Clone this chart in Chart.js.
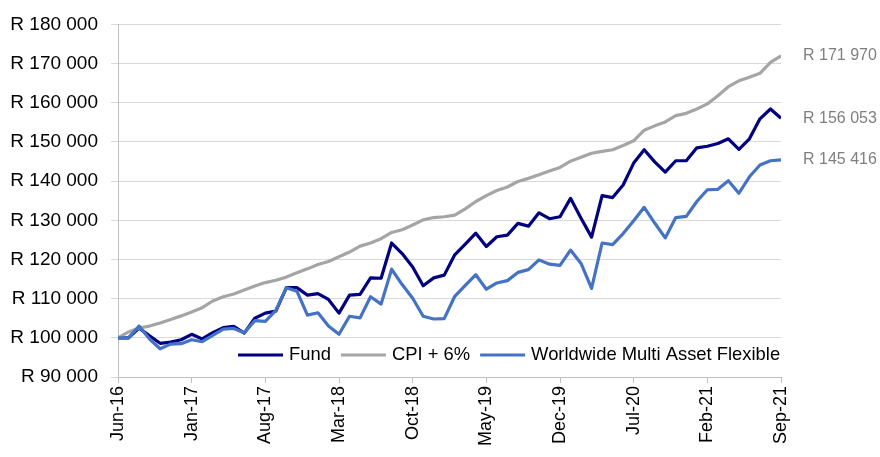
<!DOCTYPE html>
<html>
<head>
<meta charset="utf-8">
<script src="https://cdn.jsdelivr.net/npm/chart.js@4.4.1/dist/chart.umd.min.js"></script>
<style>
  html, body { margin: 0; padding: 0; background: #fff; }
  #wrap { width: 880px; height: 457px; position: relative; }
</style>
</head>
<body>
<div id="wrap"><canvas id="growthChart"></canvas></div>
<script>
// Growth of R100 000, monthly, Jun-16 to Sep-21 (64 month ends)
const tickLabels = ['Jun-16', 'Jan-17', 'Aug-17', 'Mar-18', 'Oct-18', 'May-19', 'Dec-19', 'Jul-20', 'Feb-21', 'Sep-21'];
const seriesNames = ['Fund', 'CPI + 6%', 'Worldwide Multi Asset Flexible'];

const fundValues = [
    100000, 100000, 102500, 100500, 98600, 98900, 99500, 100900, 99700, 101300,
    102600, 102900, 101200, 105000, 106300, 106800, 112800, 112800, 110900, 111300,
    109800, 106300, 110900, 111100, 115300, 115200, 124200, 121500, 118100, 113300,
    115300, 116000, 121200, 123900, 126700, 123300, 125800, 126200, 129200, 128500,
    131900, 130400, 130900, 135600, 130500, 125700, 136300, 135800, 139000, 144600,
    148000, 144900, 142300, 145200, 145200, 148500, 148900, 149600, 150800, 148100,
    150800, 155900, 158400, 156053
];

const cpiValues = [
    100000, 101500, 102500, 103000, 103800, 104700, 105600, 106600, 107700, 109400,
    110500, 111200, 112200, 113200, 114100, 114700, 115500, 116600, 117600, 118700,
    119500, 120700, 121900, 123400, 124200, 125300, 126900, 127600, 128800, 130100,
    130700, 130900, 131300, 132900, 134800, 136300, 137600, 138500, 139900, 140700,
    141600, 142600, 143500, 145100, 146100, 147100, 147600, 148000, 149100, 150300,
    153000, 154100, 155100, 156700, 157300, 158400, 159700, 161800, 164100, 165600,
    166500, 167500, 170300, 171970
];

const wmaValues = [
    100000, 100000, 103000, 99700, 97200, 98400, 98500, 99500, 99000, 100600,
    102200, 102400, 101300, 104400, 104200, 107000, 112800, 111900, 105800, 106400,
    103000, 100900, 105500, 105100, 110500, 108600, 117500, 113600, 110100, 105500,
    104800, 104900, 110600, 113400, 116100, 112400, 114000, 114600, 116700, 117400,
    119900, 118800, 118500, 122400, 119000, 112600, 124200, 123800, 126600, 129900,
    133300, 129300, 125500, 130700, 131000, 134800, 137800, 137900, 140100, 136900,
    141100, 144100, 145200, 145416
];

const colors = ['#000080', '#A5A5A5', '#4472C4'];
const FONT = '"Liberation Sans", Arial, sans-serif';

function randFormat(v) {
    return 'R ' + Math.round(v).toString().replace(/\B(?=(\d{3})+(?!\d))/g, ' ');
}

function toPoints(values) {
    return values.map((v, i) => ({ x: i, y: v }));
}

// Closing values printed to the right of the plot
const endLabels = {
    id: 'endLabels',
    afterDatasetsDraw(chart) {
        const ctx = chart.ctx;
        ctx.save();
        ctx.font = '16px ' + FONT;
        ctx.fillStyle = '#7F7F7F';
        ctx.textAlign = 'left';
        ctx.textBaseline = 'middle';
        chart.data.datasets.forEach((ds, i) => {
            const meta = chart.getDatasetMeta(i);
            const last = meta.data[meta.data.length - 1];
            const value = ds.data[ds.data.length - 1].y;
            ctx.fillText(randFormat(value), chart.chartArea.right + 22, last.y);
        });
        ctx.restore();
    }
};

// Legend sits inside the plot, near the bottom
const insideLegend = {
    id: 'insideLegend',
    afterDraw(chart) {
        const ctx = chart.ctx;
        const area = chart.chartArea;
        ctx.save();
        ctx.font = '18.4px ' + FONT;
        ctx.textBaseline = 'middle';
        ctx.textAlign = 'left';
        let x = area.left + 120;
        const y = area.bottom - 22;
        chart.data.datasets.forEach(ds => {
            ctx.strokeStyle = ds.borderColor;
            ctx.lineWidth = 3;
            ctx.beginPath();
            ctx.moveTo(x, y);
            ctx.lineTo(x + 45, y);
            ctx.stroke();
            x += 51;
            ctx.fillStyle = '#000';
            ctx.fillText(ds.label, x, y);
            x += ctx.measureText(ds.label).width + 10;
        });
        ctx.restore();
    }
};

const ctx = document.getElementById('growthChart');
new Chart(ctx.getContext('2d'), {
    type: 'line',
    data: {
        datasets: [{
            label: seriesNames[0],
            data: toPoints(fundValues),
            borderColor: colors[0],
            order: 2
        }, {
            label: seriesNames[1],
            data: toPoints(cpiValues),
            borderColor: colors[1],
            order: 1
        }, {
            label: seriesNames[2],
            data: toPoints(wmaValues),
            borderColor: colors[2],
            order: 0
        }]
    },
    options: {
        responsive: true,
        maintainAspectRatio: false,
        animation: false,
        elements: {
            point: { radius: 0 },
            line: { borderWidth: 3.2, tension: 0, borderJoinStyle: 'round' }
        },
        layout: {
            padding: { left: 0, right: 99, top: 20, bottom: 0 }
        },
        plugins: {
            legend: { display: false },
            tooltip: { enabled: false }
        },
        scales: {
            x: {
                type: 'linear',
                min: 0,
                max: fundValues.length - 1,
                afterFit: scale => { scale.height = 80; },
                afterBuildTicks: scale => {
                    scale.ticks = tickLabels.map((t, i) => ({ value: i * 7 }));
                },
                ticks: {
                    autoSkip: false,
                    maxRotation: 90,
                    minRotation: 90,
                    padding: 3,
                    color: '#000',
                    font: { family: FONT, size: 18 },
                    callback: (value) => tickLabels[Math.round(value / 7)]
                },
                grid: {
                    drawOnChartArea: false,
                    tickLength: 6,
                    color: '#BFBFBF'
                },
                border: { color: '#BFBFBF', width: 1 }
            },
            y: {
                min: 90000,
                max: 180000,
                afterFit: scale => { scale.width = 118; },
                ticks: {
                    stepSize: 10000,
                    padding: 13,
                    color: '#000',
                    font: { family: FONT, size: 19 },
                    callback: (value) => randFormat(value)
                },
                grid: {
                    color: '#D9D9D9',
                    tickLength: 7,
                    lineWidth: 1
                },
                border: { color: '#BFBFBF', width: 1 }
            }
        }
    },
    plugins: [endLabels, insideLegend]
});
</script>
</body>
</html>
